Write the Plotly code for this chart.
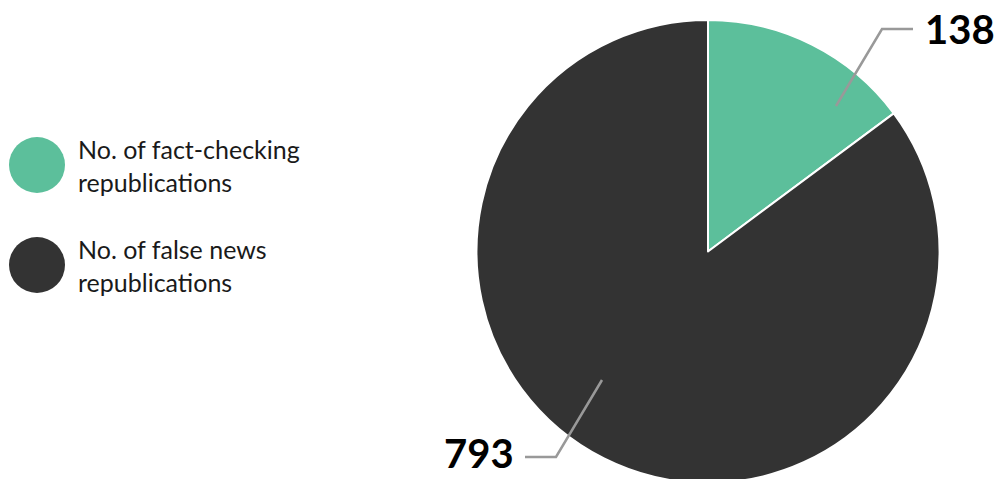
import plotly.graph_objects as go

categories = ["No. of fact-checking republications", "No. of false news republications"]
legend_labels = ["No. of fact-checking<br>republications", "No. of false news<br>republications"]
values = [138, 793]
colors = ["#5cbf9b", "#333333"]

W, H = 998, 483

def px(x):
    return x / W

def py(y):
    return 1 - y / H

cx, cy, r = 708, 251.5, 231.5

fig = go.Figure()
fig.add_trace(go.Pie(
    labels=categories,
    values=values,
    sort=False,
    direction="clockwise",
    rotation=0,
    textinfo="none",
    hoverinfo="label+value",
    marker=dict(colors=colors, line=dict(color="white", width=2)),
    domain=dict(x=[px(cx - r), px(cx + r)], y=[0, 1 - 20 / H]),
    showlegend=False,
))

shapes = []
annotations = []
# legend
for i, (lab, col) in enumerate(zip(legend_labels, colors)):
    ly = 165 + i * 100
    shapes.append(dict(type="circle", xref="paper", yref="paper",
                       x0=px(9), x1=px(65), y0=py(ly + 28), y1=py(ly - 28),
                       fillcolor=col, line=dict(width=0)))
    annotations.append(dict(x=px(76), y=py(ly), xref="paper", yref="paper",
                            text=lab, showarrow=False, xanchor="left", yanchor="middle",
                            align="left", font=dict(family="Lato", size=25, color="#1a1a1a")))

# value labels with leader lines
leaders = [
    [(836, 106), (882, 29), (913, 29)],
    [(602, 380), (556, 457), (525, 457)],
]
label_pos = [(997, 29, "right"), (516, 453, "right")]
for v, pts, (lx, ly, anc) in zip(values, leaders, label_pos):
    path = "M " + " L ".join(f"{px(x)},{py(y)}" for x, y in pts)
    shapes.append(dict(type="path", xref="paper", yref="paper", path=path,
                       line=dict(color="#999999", width=2.5)))
    annotations.append(dict(x=px(lx), y=py(ly), xref="paper", yref="paper",
                            text=f"<b>{v}</b>", showarrow=False, xanchor=anc, yanchor="middle",
                            font=dict(family="Lato", size=40, color="#000000")))

fig.update_layout(
    width=W, height=H, autosize=False,
    margin=dict(l=0, r=0, t=0, b=0),
    paper_bgcolor="white", plot_bgcolor="white",
    shapes=shapes, annotations=annotations,
)

fig.write_html("out.html", config={"displayModeBar": False},
               post_script="document.body.style.margin='0';document.body.style.overflow='hidden';document.documentElement.style.overflow='hidden';")
